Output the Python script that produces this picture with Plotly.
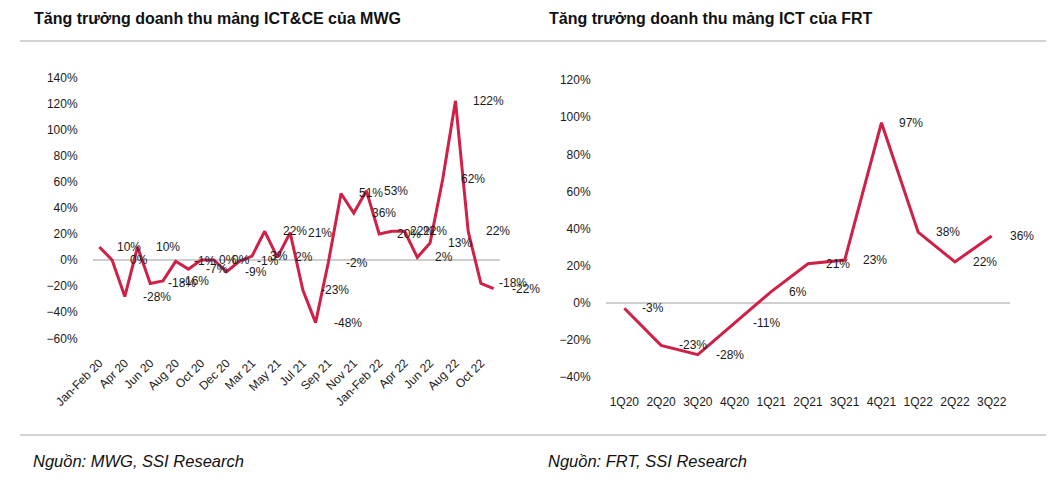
import plotly.graph_objects as go

# ---------------- data ----------------
mwg_months = ["Jan-Feb 20", "Mar 20", "Apr 20", "May 20", "Jun 20", "Jul 20", "Aug 20", "Sep 20",
              "Oct 20", "Nov 20", "Dec 20", "Jan-Feb 21", "Mar 21", "Apr 21", "May 21", "Jun 21",
              "Jul 21", "Aug 21", "Sep 21", "Oct 21", "Nov 21", "Dec 21", "Jan-Feb 22", "Mar 22",
              "Apr 22", "May 22", "Jun 22", "Jul 22", "Aug 22", "Sep 22", "Oct 22", "Nov 22"]
mwg_growth = [10, 0, -28, 10, -18, -16, -1, -7, 0, 0, -9, -1, 3, 22, 2, 21,
              -23, -48, -2, 51, 36, 53, 20, 22, 22, 2, 13, 62, 122, 22, -18, -22]

frt_quarters = ["1Q20", "2Q20", "3Q20", "4Q20", "1Q21", "2Q21", "3Q21", "4Q21", "1Q22", "2Q22", "3Q22"]
frt_growth = [-3, -23, -28, -11, 6, 21, 23, 97, 38, 22, 36]

title_left = "Tăng trưởng doanh thu mảng ICT&CE của MWG"
title_right = "Tăng trưởng doanh thu mảng ICT của FRT"
source_left = "Nguồn: MWG, SSI Research"
source_right = "Nguồn: FRT, SSI Research"

# ---------------- style ----------------
W, H = 1060, 493
RED = "#CF2147"
TXT = "#1a1a1a"
FONT = "Liberation Sans, Arial, sans-serif"

def px_x(x):
    return x / W

def px_y(y):
    return 1 - y / H

fig = go.Figure()

fig.add_trace(go.Scatter(x=mwg_months, y=mwg_growth, mode="lines",
                         line=dict(color=RED, width=3), xaxis="x", yaxis="y",
                         hoverinfo="skip", showlegend=False))
fig.add_trace(go.Scatter(x=frt_quarters, y=frt_growth, mode="lines",
                         line=dict(color=RED, width=3), xaxis="x2", yaxis="y2",
                         hoverinfo="skip", showlegend=False))

annotations = []
for m, v in zip(mwg_months, mwg_growth):
    annotations.append(dict(x=m, y=v, xref="x", yref="y", text=f"{v}%", showarrow=False,
                            xanchor="left", yanchor="middle", xshift=16,
                            font=dict(family=FONT, size=12, color=TXT)))
for q, v in zip(frt_quarters, frt_growth):
    annotations.append(dict(x=q, y=v, xref="x2", yref="y2", text=f"{v}%", showarrow=False,
                            xanchor="left", yanchor="middle", xshift=16,
                            font=dict(family=FONT, size=12, color=TXT)))

# titles and sources
annotations += [
    dict(x=px_x(32), y=px_y(19), xref="paper", yref="paper", text=f"<b>{title_left}</b>",
         showarrow=False, xanchor="left", yanchor="middle",
         font=dict(family=FONT, size=16, color="#111")),
    dict(x=px_x(547), y=px_y(19), xref="paper", yref="paper", text=f"<b>{title_right}</b>",
         showarrow=False, xanchor="left", yanchor="middle",
         font=dict(family=FONT, size=16, color="#111")),
    dict(x=px_x(31), y=px_y(461), xref="paper", yref="paper", text=f"<i>{source_left}</i>",
         showarrow=False, xanchor="left", yanchor="middle",
         font=dict(family=FONT, size=16.5, color="#111")),
    dict(x=px_x(546), y=px_y(461), xref="paper", yref="paper", text=f"<i>{source_right}</i>",
         showarrow=False, xanchor="left", yanchor="middle",
         font=dict(family=FONT, size=16.5, color="#111")),
]

shapes = [
    dict(type="line", xref="paper", yref="paper", x0=px_x(20), x1=px_x(1046),
         y0=px_y(41), y1=px_y(41), line=dict(color="#c4c4c4", width=1.5)),
    dict(type="line", xref="paper", yref="paper", x0=px_x(20), x1=px_x(1046),
         y0=px_y(435), y1=px_y(435), line=dict(color="#c4c4c4", width=1.5)),
]

axis_font = dict(family=FONT, size=12, color=TXT)

fig.update_layout(
    width=W, height=H,
    margin=dict(l=0, r=0, t=0, b=0, autoexpand=False),
    paper_bgcolor="white", plot_bgcolor="white",
    showlegend=False,
    annotations=annotations,
    shapes=shapes,
    xaxis=dict(domain=[px_x(93), px_x(500)], type="category",
               categoryorder="array", categoryarray=mwg_months,
               range=[-0.5, len(mwg_months) - 0.5],
               tickvals=mwg_months[::2], ticktext=mwg_months[::2],
               tickangle=-45, tickfont=axis_font, automargin=False,
               ticks="outside", ticklen=12, tickcolor="rgba(0,0,0,0)",
               showgrid=False, showline=False, zeroline=False, anchor="y"),
    yaxis=dict(domain=[px_y(338.3), px_y(77.3)], range=[-60, 140], dtick=20,
               ticksuffix="%", tickfont=axis_font, automargin=False,
               ticks="outside", ticklen=12, tickcolor="rgba(0,0,0,0)",
               showgrid=False, showline=False,
               zeroline=True, zerolinecolor="#cfcfcf", zerolinewidth=1.5, anchor="x"),
    xaxis2=dict(domain=[px_x(606), px_x(1010)], type="category",
                categoryorder="array", categoryarray=frt_quarters,
                range=[-0.5, len(frt_quarters) - 0.5],
                tickfont=axis_font, tickangle=0, automargin=False,
                ticks="outside", ticklen=14, tickcolor="rgba(0,0,0,0)",
                showgrid=False, showline=False, zeroline=False, anchor="y2"),
    yaxis2=dict(domain=[px_y(376.9), px_y(80.1)], range=[-40, 120], dtick=20,
                ticksuffix="%", tickfont=axis_font, automargin=False,
                ticks="outside", ticklen=12, tickcolor="rgba(0,0,0,0)",
                showgrid=False, showline=False,
                zeroline=True, zerolinecolor="#cfcfcf", zerolinewidth=1.5, anchor="x2"),
)

fig.write_html("out.html")
